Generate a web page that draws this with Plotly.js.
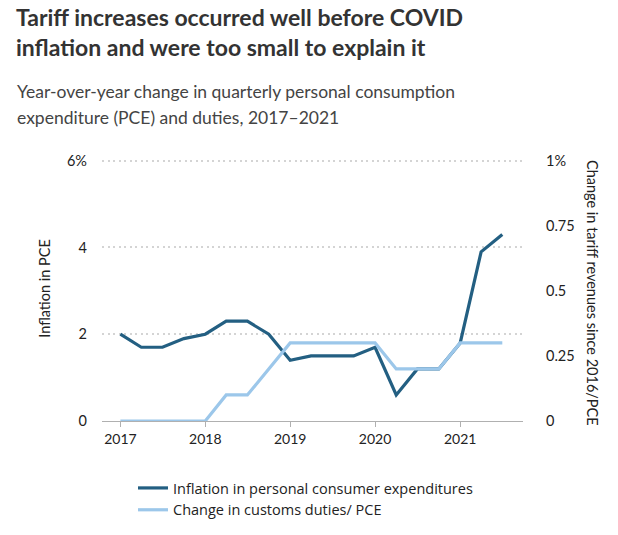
<!DOCTYPE html>
<html>
<head>
<meta charset="utf-8">
<script src="https://cdn.plot.ly/plotly-3.0.1.min.js"></script>
<style>
  html, body { margin: 0; padding: 0; background: #fff; }
  #chart { width: 618px; height: 535px; }
</style>
</head>
<body>
<div id="chart"></div>
<script>
const quarters = ['2017-01-01','2017-04-01','2017-07-01','2017-10-01',
  '2018-01-01','2018-04-01','2018-07-01','2018-10-01',
  '2019-01-01','2019-04-01','2019-07-01','2019-10-01',
  '2020-01-01','2020-04-01','2020-07-01','2020-10-01',
  '2021-01-01','2021-04-01','2021-07-01'];
const pceInflation = [2.0,1.7,1.7,1.9, 2.0,2.3,2.3,2.0, 1.4,1.5,1.5,1.5, 1.7,0.6,1.2,1.2, 1.8,3.9,4.3];
const dutiesChange = [0,0,0,0, 0,0.1,0.1,0.2, 0.3,0.3,0.3,0.3, 0.3,0.2,0.2,0.2, 0.3,0.3,0.3];
const leftTicks = [0,2,4,6];
const leftTickText = ['0','2','4','6%'];
const rightTicks = [0,0.25,0.5,0.75,1];
const rightTickText = ['0','0.25','0.5','0.75','1%'];
const yearTicks = ['2017-01-01','2018-01-01','2019-01-01','2020-01-01','2021-01-01'];
const yearLabels = ['2017','2018','2019','2020','2021'];

const FONT = 'Lato, "Open Sans", sans-serif';
const plotTop = 156, plotBottom = 421, plotLeft = 102, plotRight = 523;
const ph = plotBottom - plotTop, pw = plotRight - plotLeft;
const py = v => (plotBottom - v) / ph;
const px = v => (v - plotLeft) / pw;
// value range chosen so 0 sits on the bottom edge and 6% sits at y≈160.7
const leftMax = 6 * ph / (plotBottom - 160.7);
const rightMax = leftMax / 6;

const traces = [
  {x: quarters, y: pceInflation, type: 'scatter', mode: 'lines',
   name: 'Inflation in personal consumer expenditures',
   line: {color: '#235f82', width: 3.2}, yaxis: 'y'},
  {x: quarters, y: dutiesChange, type: 'scatter', mode: 'lines',
   name: 'Change in customs duties/ PCE',
   line: {color: '#9cc7ea', width: 3.2}, yaxis: 'y2'}
];

const layout = {
  width: 618, height: 535,
  paper_bgcolor: '#fff', plot_bgcolor: '#fff',
  margin: {l: plotLeft, r: 618 - plotRight, t: plotTop, b: 535 - plotBottom, pad: 0, autoexpand: false},
  font: {family: FONT, color: '#222', size: 14},
  showlegend: true,
  legend: {x: px(133), y: py(472), xanchor: 'left', yanchor: 'top',
           font: {size: 14.5, color: '#222', family: '"Open Sans", Lato, sans-serif'}, itemwidth: 30,
           tracegroupgap: 0, bgcolor: 'rgba(0,0,0,0)'},
  xaxis: {type: 'date', range: ['2016-10-14', '2021-09-28'],
          tickvals: yearTicks, ticktext: yearLabels,
          showgrid: false, zeroline: false,
          showline: true, linecolor: '#b0b0b0', linewidth: 1.2,
          ticks: 'outside', ticklen: 5, tickcolor: '#b0b0b0',
          tickfont: {size: 14, color: '#222'}},
  yaxis: {range: [0, leftMax], tickvals: leftTicks, ticktext: leftTickText,
          showgrid: true, gridcolor: '#d4d4d4', griddash: '2px,3.5px', gridwidth: 2,
          zeroline: false, ticks: '', ticklabelstandoff: 14,
          tickfont: {size: 14.5, color: '#222'},
          title: {text: 'Inflation in PCE', font: {size: 14.5, color: '#222'}, standoff: 12}},
  yaxis2: {range: [0, rightMax], overlaying: 'y', side: 'right',
           tickvals: rightTicks, ticktext: rightTickText,
           showgrid: false, zeroline: false, ticks: '', ticklabelstandoff: 22,
           tickfont: {size: 14.5, color: '#222'}},
  annotations: [
    {text: '<b>Tariff increases occurred well before COVID</b>', xref: 'paper', yref: 'paper',
     x: px(14), y: py(33), xanchor: 'left', yanchor: 'bottom', showarrow: false,
     font: {size: 23, color: '#333', family: FONT}},
    {text: '<b>inflation and were too small to explain it</b>', xref: 'paper', yref: 'paper',
     x: px(14), y: py(63), xanchor: 'left', yanchor: 'bottom', showarrow: false,
     font: {size: 23, color: '#333', family: FONT}},
    {text: 'Year-over-year change in quarterly personal consumption', xref: 'paper', yref: 'paper',
     x: px(15), y: py(104), xanchor: 'left', yanchor: 'bottom', showarrow: false,
     font: {size: 17.5, color: '#444', family: FONT}},
    {text: 'expenditure (PCE) and duties, 2017\u20132021', xref: 'paper', yref: 'paper',
     x: px(15), y: py(130), xanchor: 'left', yanchor: 'bottom', showarrow: false,
     font: {size: 17.5, color: '#444', family: FONT}},
    {text: 'Change in tariff revenues since 2016/PCE', xref: 'paper', yref: 'paper',
     x: px(593), y: py(293), xanchor: 'center', yanchor: 'middle', textangle: 90,
     showarrow: false, font: {size: 14.5, color: '#222', family: FONT}}
  ]
};

Plotly.newPlot('chart', traces, layout, {displayModeBar: false, staticPlot: true});
</script>
</body>
</html>
